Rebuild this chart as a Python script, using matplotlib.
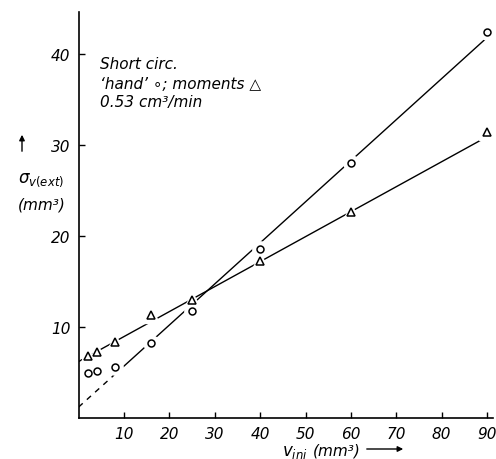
import matplotlib
matplotlib.use("Agg")
import matplotlib.pyplot as plt

plt.rcParams['font.family'] = ['DejaVu Sans']
plt.rcParams['mathtext.fontset'] = 'dejavusans'

# data
circ_x = [2, 4, 8, 16, 25, 40, 60, 90]
circ_y = [4.9, 5.2, 5.6, 8.2, 11.8, 18.6, 28.0, 42.4]
tri_x = [2, 4, 8, 16, 25, 40, 60, 90]
tri_y = [6.8, 7.3, 8.4, 11.3, 13.0, 17.2, 22.6, 31.4]

# fitted lines
circ_fit_dash_x = [0, 8]
circ_fit_dash_y = [1.2, 4.8]
circ_fit_x = [8, 90]
circ_fit_y = [4.8, 41.8]
tri_fit_dash_x = [0, 2]
tri_fit_dash_y = [6.2, 6.75]
tri_fit_x = [2, 90]
tri_fit_y = [6.75, 30.9]

xticks = [10, 20, 30, 40, 50, 60, 70, 80, 90]
yticks = [10, 20, 30, 40]

W, H = 496, 460
fig = plt.figure(figsize=(W / 100, H / 100), dpi=100)
ax = fig.add_axes([78.6 / W, (H - 419) / H, (493 - 78.6) / W, (419 - 13) / H])
ax.set_xlim(0, 91.3)
ax.set_ylim(0, 44.6)

lw = 1.0
ax.plot(circ_fit_dash_x, circ_fit_dash_y, color='black', lw=lw, ls=(0, (4, 4)))
ax.plot(circ_fit_x, circ_fit_y, color='black', lw=lw)
ax.plot(tri_fit_dash_x, tri_fit_dash_y, color='black', lw=lw, ls=(0, (3, 3)))
ax.plot(tri_fit_x, tri_fit_y, color='black', lw=lw)

# white halo to create gaps around markers
ax.plot(circ_x, circ_y, ls='none', marker='o', ms=11, mfc='white', mec='white', zorder=3)
ax.plot(tri_x, tri_y, ls='none', marker='^', ms=12, mfc='white', mec='white', zorder=3)
ax.plot(circ_x, circ_y, ls='none', marker='o', ms=5, mfc='white', mec='black', mew=1.1, zorder=4)
ax.plot(tri_x, tri_y, ls='none', marker='^', ms=6, mfc='white', mec='black', mew=1.1, zorder=4)

for s in ['top', 'right']:
    ax.spines[s].set_visible(False)
for s in ['left', 'bottom']:
    ax.spines[s].set_linewidth(1.2)

ax.set_xticks(xticks)
ax.set_yticks(yticks)
ax.set_xticklabels([str(t) for t in xticks], fontstyle='italic', fontsize=11)
ax.set_yticklabels([str(t) for t in yticks], fontstyle='italic', fontsize=11)
ax.tick_params(direction='in', length=4, width=1, pad=6)

tx = dict(fontstyle='italic', fontsize=11, transform=ax.transData)
ax.text(4.7, 38.5, 'Short circ.', **tx)
ax.text(4.7, 36.3, '‘hand’ ∘; moments △', **tx)
ax.text(4.7, 34.3, '0.53 cm³/min', **tx)

# y label
fig.text(18 / W, 1 - 183 / H, r'$\sigma_{v(ext)}$', fontsize=12)
fig.text(18 / W, 1 - 210 / H, '(mm³)', fontstyle='italic', fontsize=11)
fig.add_artist(matplotlib.patches.FancyArrowPatch((22 / W, 1 - 155 / H), (22 / W, 1 - 133 / H),
               transform=fig.transFigure, arrowstyle='-|>', mutation_scale=8, color='black', lw=1))

# x label
fig.text(282 / W, 1 - 456 / H, r'$v_{ini}$', fontsize=12)
fig.text(313 / W, 1 - 456 / H, '(mm³)', fontstyle='italic', fontsize=11)
fig.add_artist(matplotlib.patches.FancyArrowPatch((364 / W, 1 - 450 / H), (406 / W, 1 - 450 / H),
               transform=fig.transFigure, arrowstyle='-|>', mutation_scale=8, color='black', lw=1))

fig.savefig('out.png', dpi=100)
